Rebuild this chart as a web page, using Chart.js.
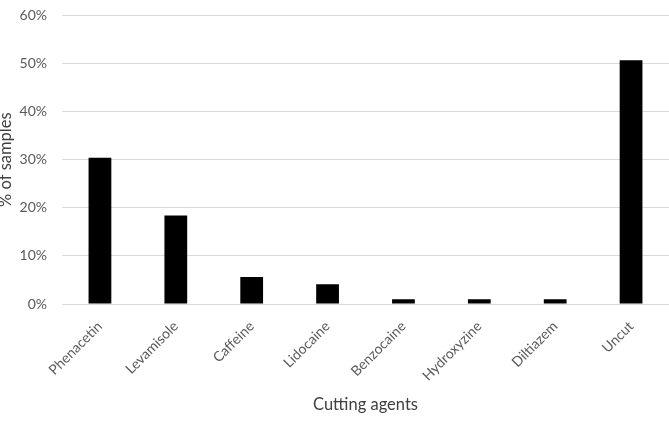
<!DOCTYPE html>
<html>
<head>
<meta charset="utf-8">
<script src="https://cdn.jsdelivr.net/npm/chart.js@4/dist/chart.umd.min.js"></script>
<style>
html,body{margin:0;padding:0;background:#fff;overflow:hidden;}
#wrap{width:669px;height:421px;overflow:hidden;position:relative;}
#c{position:absolute;left:0;top:-8px;}
</style>
</head>
<body>
<div id="wrap"><canvas id="c" width="669" height="429"></canvas></div>
<script>
const categories = ["Phenacetin","Levamisole","Caffeine","Lidocaine","Benzocaine","Hydroxyzine","Diltiazem","Uncut"];
const percentSamples = [30.4, 18.4, 5.6, 4.1, 1.0, 1.0, 1.0, 50.7];
const yTicks = [0, 10, 20, 30, 40, 50, 60];

const fontFamily = "Lato, 'Open Sans', sans-serif";
new Chart(document.getElementById('c'), {
  type: 'bar',
  data: {
    labels: categories,
    datasets: [{
      data: percentSamples,
      backgroundColor: '#000000',
      borderWidth: 0,
      barPercentage: 0.3,
      categoryPercentage: 1.0
    }]
  },
  options: {
    responsive: false,
    animation: false,
    devicePixelRatio: 1,
    layout: { padding: { top: 0, left: -4, right: 0, bottom: 6 } },
    plugins: { legend: { display: false }, tooltip: { enabled: false } },
    scales: {
      x: {
        grid: { display: false, drawTicks: false },
        border: { display: true, color: '#d9d9d9', width: 1 },
        ticks: {
          color: '#595959',
          font: { family: fontFamily, size: 14 },
          minRotation: 45, maxRotation: 45,
          padding: 14
        },
        title: {
          display: true, text: 'Cutting agents', color: '#404040',
          font: { family: fontFamily, size: 16.5 },
          padding: { top: 0, bottom: 0 }
        },
        afterFit: (s) => { s.height = 111; }
      },
      y: {
        min: 0, max: 60,
        afterBuildTicks: (s) => { s.ticks = yTicks.map(v => ({ value: v })); },
        grid: { color: '#d9d9d9', drawTicks: false, lineWidth: 1 },
        border: { display: false },
        ticks: {
          color: '#595959',
          font: { family: fontFamily, size: 14 },
          padding: 15,
          callback: (v) => v + '%'
        },
        title: {
          display: true, text: '% of samples', color: '#404040',
          font: { family: fontFamily, size: 16.5 },
          padding: { top: 0, bottom: 0 }
        },
        afterFit: (s) => { s.width = 66; }
      }
    }
  }
});
</script>
</body>
</html>
